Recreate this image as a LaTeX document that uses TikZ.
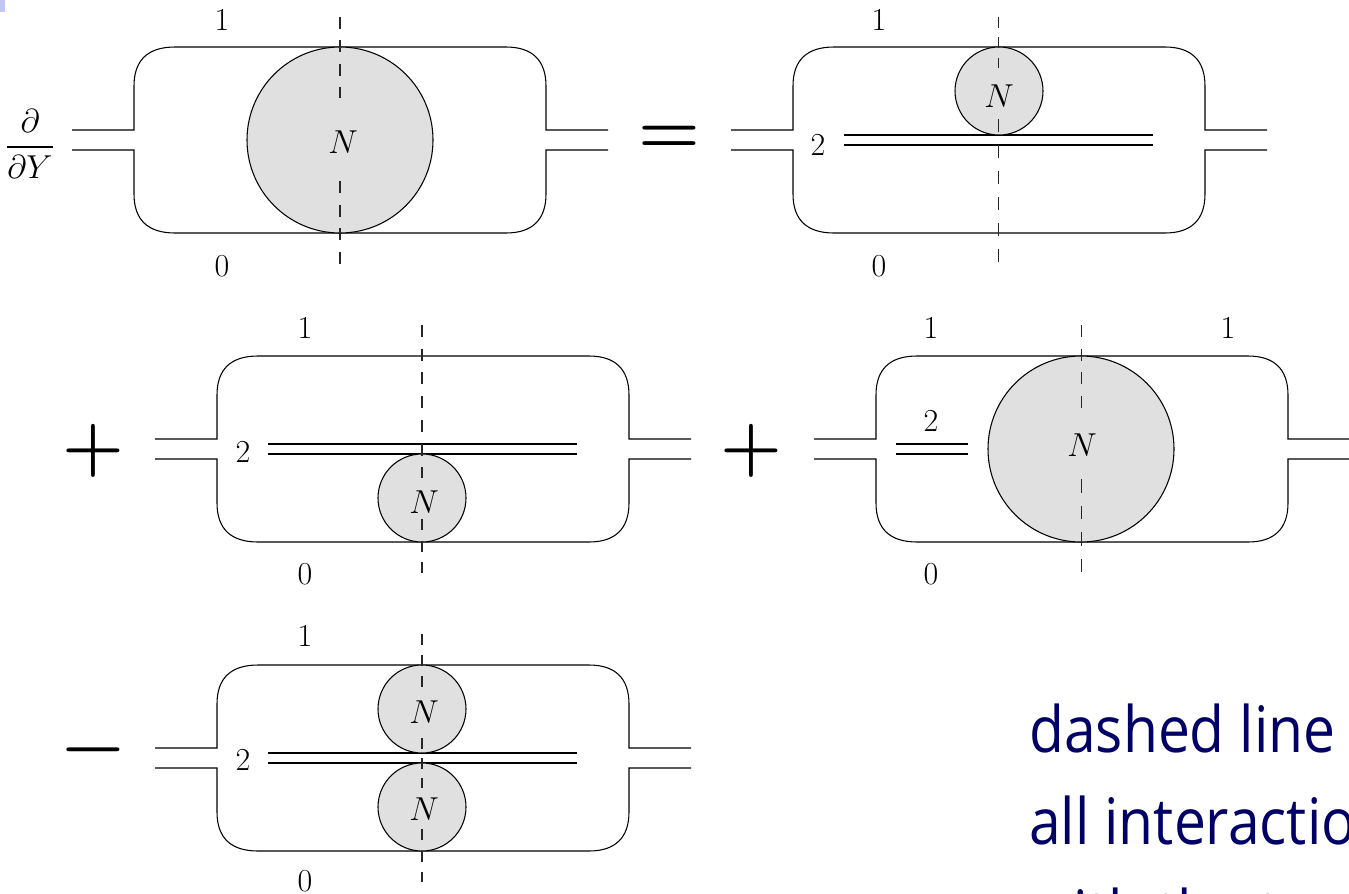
\documentclass[tikz,border=0pt]{standalone}
\usepackage{fontspec}
\usepackage{amsmath}
\usepackage{tikz}
\usepackage{xcolor}
\newfontfamily\slidefont[FakeStretch=0.89]{Open Sans}
\definecolor{blobgray}{HTML}{E0E0E0}
\definecolor{slideblue}{HTML}{000066}
\definecolor{cornerblue}{HTML}{C4C4F2}
\tikzset{
  wire/.style={line width=0.8pt},
  cutline/.style={line width=0.8pt,color=black!85},
  blob/.style={draw,fill=blobgray,circle,inner sep=0pt,line width=0.8pt},
  biglabel/.style={font=\fontsize{24}{29}\selectfont,inner sep=0pt},
  signlabel/.style={font=\fontsize{53}{60}\selectfont\bfseries,inner sep=0pt},
  slidetext/.style={font=\slidefont\fontsize{48}{58}\selectfont,color=slideblue,
                    anchor=base west,inner sep=0pt}
}
\begin{document}
\begin{tikzpicture}[x=0.75pt,y=-0.75pt]
  \useasboundingbox (0,0) rectangle (1349,893);
  \clip (0,0) rectangle (1349,893);
  \fill[cornerblue] (0,0) rectangle (5,12);

  % frames
  \foreach \dx/\dy in {0/0,659/0,83/309,742/309,83/618} {
    \begin{scope}[shift={(\dx,\dy)}]
      \draw[wire] (72,130) -- (134,130) -- (134,86)
        .. controls (134,60) and (148,47) .. (175,47) -- (506,47)
        .. controls (532,47) and (546,60) .. (546,86) -- (546,130) -- (608,130);
      \draw[wire] (72,150) -- (134,150) -- (134,194)
        .. controls (134,220) and (148,233) .. (175,233) -- (506,233)
        .. controls (532,233) and (546,220) .. (546,194) -- (546,150) -- (608,150);
    \end{scope}
  }

  % double lines
  \foreach \xa/\xb/\ya in {844/1153/135,268/577/444,896/968/444,268/577/753} {
    \draw[wire] (\xa,\ya) -- (\xb,\ya);
    \draw[wire] (\xa,\ya+10) -- (\xb,\ya+10);
  }

  % blobs
  \node[blob,minimum size=139.5pt] (blobA) at (340,140) {};
  \node[blob,minimum size=66pt] (blobB) at (999,91) {};
  \node[blob,minimum size=66pt] (blobC) at (422,498) {};
  \node[blob,minimum size=139.5pt] (blobD) at (1081,449) {};
  \node[blob,minimum size=66pt] (blobE) at (422,709) {};
  \node[blob,minimum size=66pt] (blobF) at (422,807) {};

  % cuts
  \foreach \x/\ya/\yb/\on/\off in {
      340/16.5/98/12/11.5,340/181/264/12/11.5,
      998.7/16.7/68/11/9.6,998.7/119/263/13/13,
      422/325/478/12/11.7,422/519/573/11/10.5,
      1081.3/325/408/12/11.7,1081.3/479/573/13.5/13,
      422/634/687/11/10,422/738/788/11/9,422/829/882/11/10.5} {
    \draw[cutline,dash pattern=on \on*0.75pt off \off*0.75pt] (\x,\ya) -- (\x,\yb);
  }

  % labels
  \node[biglabel] (dY) at (30,144) {$\dfrac{\partial}{\partial Y}$};
  \node[biglabel] (nA) at (343,142) {$N$};
  \node[biglabel] (nB) at (999,96) {$N$};
  \node[biglabel] (nC) at (424,502) {$N$};
  \node[biglabel] (nD) at (1082,445) {$N$};
  \node[biglabel] (nE) at (424,712) {$N$};
  \node[biglabel] (nF) at (424,809) {$N$};
  \foreach \x/\y/\txt/\name in {
      222/20/1/a,222/266/0/b,879/20/1/c,879/266/0/d,818/145/2/e,
      305/328/1/f,305/574/0/g,243/452/2/h,
      931/328/1/i,1228/328/1/j,931/574/0/k,931/421/2/l,
      305/636/1/m,305/881/0/n,243/760/2/o} {
    \node[biglabel] (lab\name) at (\x,\y) {\txt};
  }
  \node[signlabel] (eqsign) at (669,140) {=};
  \node[signlabel] (plusA) at (93,451) {+};
  \node[signlabel] (plusB) at (751,451) {+};
  \node[signlabel] (minusA) at (93,758) {\symbol{"2212}};

  \node[slidetext] (lineA) at (1029,752) {dashed line};
  \node[slidetext] (lineB) at (1029,844) {all interactio};
  \node[slidetext] (lineC) at (1029,936) {with the t};
\end{tikzpicture}
\end{document}
